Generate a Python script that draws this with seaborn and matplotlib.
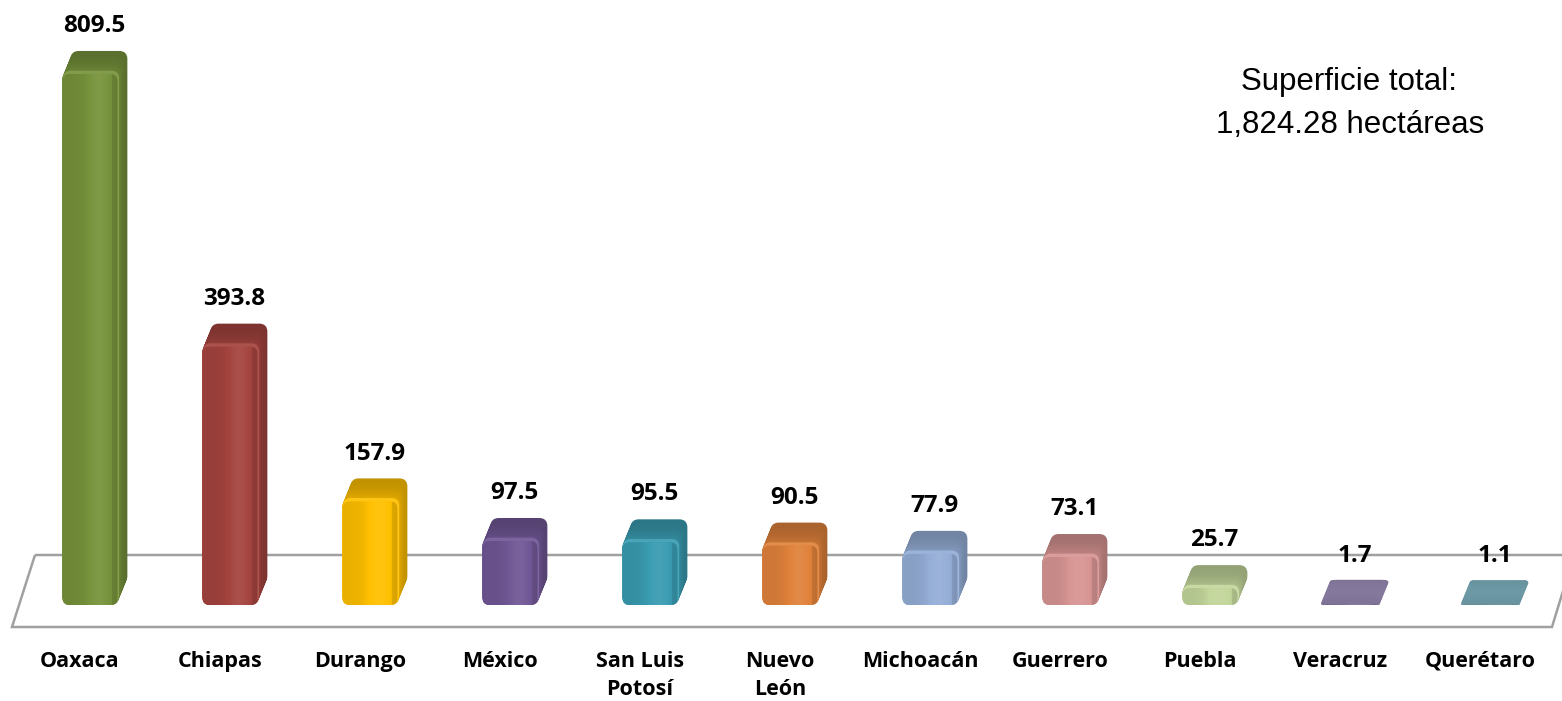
import matplotlib
matplotlib.use("Agg")
import matplotlib.pyplot as plt
import matplotlib.colors as mcolors
import matplotlib.transforms as mtransforms
from matplotlib.patches import Polygon, FancyBboxPatch
import seaborn as sns
import pandas as pd
import numpy as np

# ---------------- data ----------------
states = ["Oaxaca", "Chiapas", "Durango", "México", "San Luis\nPotosí",
          "Nuevo\nLeón", "Michoacán", "Guerrero", "Puebla", "Veracruz", "Querétaro"]
values = [809.5, 393.8, 157.9, 97.5, 95.5, 90.5, 77.9, 73.1, 25.7, 1.7, 1.1]
bar_colors = ["#77933C", "#A5443F", "#FFC000", "#715896", "#3A9CB1",
              "#E0823B", "#95AED7", "#D79593", "#C3D69B", "#82769A", "#6A96A3"]
note_lines = ["Superficie total:", "1,824.28 hectáreas"]

# ---------------- style ----------------
sns.set_theme(style="white")
plt.rcParams['font.family'] = ['Open Sans', 'DejaVu Sans']

W, H = 1562, 701
fig = plt.figure(figsize=(W / 100, H / 100), dpi=100)
base_px = 96                      # bar base, pixels from bottom
ax = fig.add_axes([0, base_px / H, 1, (H - base_px) / H])

df = pd.DataFrame({"estado": states, "sup": values})
sns.barplot(data=df, x="estado", y="sup", hue="estado", palette=bar_colors,
            legend=False, width=0.39, saturation=1, ax=ax, zorder=3)

XL = (-0.643, 10.514)
YL = (0, 922.3)
ax.set_xlim(*XL)
ax.set_ylim(*YL)

ppu_x = W / (XL[1] - XL[0])                 # pixels per x unit
ppu_y = (H - base_px) / (YL[1] - YL[0])     # pixels per y unit
depth_px = (9, 22)                          # 3D depth offset in pixels
dx = depth_px[0] / ppu_x
dy = depth_px[1] / ppu_y


def shade(c, f):
    r, g, b = mcolors.to_rgb(c)
    if f < 1:
        return (r * f, g * f, b * f)
    return (r + (1 - r) * (f - 1), g + (1 - g) * (f - 1), b + (1 - b) * (f - 1))


def rounded(x, y, w, h, rpx, **kw):
    rx = rpx / ppu_x
    ry = min(rpx / ppu_y, max(h, 0.02) / 2)
    return FancyBboxPatch((x, y), w, max(h, 0.02),
                          boxstyle=f"round,pad=0,rounding_size={rx}",
                          mutation_aspect=ry / rx, **kw)


bars = list(ax.patches)
for p in bars:
    x0, w, h = p.get_x(), p.get_width(), p.get_height()
    c = p.get_facecolor()
    p.set_visible(False)

    # extrusion (sweep from back to front)
    steps = depth_px[1]
    small = h < 5
    for k in range(steps, 0, -1):
        t = k / steps
        if small:
            f = 0.97 + 0.05 * np.sin(np.pi * (1 - t))
        else:
            f = 0.76 + 0.16 * (1 - t) ** 2
        col = shade(c, f)
        ax.add_patch(rounded(x0 + t * dx, t * dy, w, h, 7, facecolor=col,
                             edgecolor=col, lw=3 if small else 1.5,
                             joinstyle='round', zorder=3))
    # bevel highlight band just behind the front face
    if not small:
        hl = shade(c, 1.08)
        ax.add_patch(rounded(x0 + 0.12 * dx, 0.12 * dy, w, h, 7, facecolor=hl,
                             edgecolor=hl, lw=1.0, zorder=3.05))
    # front face
    front = rounded(x0, 0, w, h, 7, facecolor=c, edgecolor='none', zorder=3.2)
    ax.add_patch(front)
    # horizontal shading on front face
    if h > 1:
        xs = np.linspace(0, 1, 64)
        prof = 0.92 + 0.14 * np.exp(-((xs - 0.66) / 0.25) ** 2) - 0.10 * (xs > 0.9)
        grad = np.array([[shade(c, f) for f in prof]])
        im = ax.imshow(grad, extent=[x0, x0 + w, 0, h], aspect='auto',
                       zorder=3.3, interpolation='bilinear')
        im.set_clip_path(front)

    ax.annotate(f"{h:.1f}", xy=(x0 + w / 2 + dx / 2, h + dy), xytext=(0, 10),
                textcoords='offset points', ha='center', va='bottom',
                fontsize=17.5, fontweight='bold', color='black', zorder=5)

ax.set_xlim(*XL)
ax.set_ylim(*YL)

# floor plane
floor = Polygon([(35 / W, 146 / H), (1574 / W, 146 / H), (1552 / W, 74 / H), (12 / W, 74 / H)],
                closed=True, fill=False, edgecolor="#A0A0A0", lw=1.8,
                transform=fig.transFigure, clip_on=False, zorder=1)
ax.add_patch(floor)

# axes cosmetics
for s in ax.spines.values():
    s.set_visible(False)
ax.set_yticks([])
ax.set_xlabel("")
ax.set_ylabel("")
ax.grid(False)
ax.tick_params(axis='x', length=0, pad=33)
shift = mtransforms.ScaledTranslation(-10 / 100, 0, fig.dpi_scale_trans)
for t in ax.get_xticklabels():
    t.set_fontsize(15.5)
    t.set_fontweight('bold')
    t.set_color('black')
    t.set_linespacing(1.45)
    t.set_transform(t.get_transform() + shift)

# note
fig.text(1349 / W, 1 - 82 / H, note_lines[0], ha='center', va='center',
         fontsize=22.5, family=['Liberation Sans', 'DejaVu Sans'], color='black')
fig.text(1350 / W, 1 - 125 / H, note_lines[1], ha='center', va='center',
         fontsize=22.5, family=['Liberation Sans', 'DejaVu Sans'], color='black')

fig.savefig("out.png", dpi=100, facecolor='white')
